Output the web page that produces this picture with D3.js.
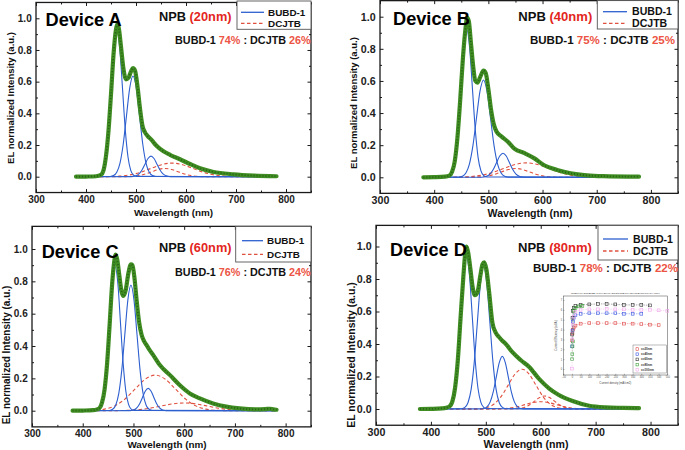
<!DOCTYPE html>
<html><head><meta charset="utf-8">
<script src="https://cdn.jsdelivr.net/npm/d3@7"></script>
<style>
body{margin:0;background:#fff}
svg{display:block}
text{font-family:"Liberation Sans",Arial,Helvetica,sans-serif;font-weight:bold;white-space:pre}
</style></head>
<body><svg id="c" width="685" height="450"></svg>
<script>
// ---------- tick labels ----------
const wavelengthTicks=[300,400,500,600,700,800];
const wavelengthMinor=[350,450,550,650,750,850];
const intensityTicks=[0,0.2,0.4,0.6,0.8,1.0];
const intensityMinor=[0.1,0.3,0.5,0.7,0.9];

// ---------- labels ----------
const deviceNames=["Device A","Device B","Device C","Device D"];
const npbThickness=["(20nm)","(40nm)","(60nm)","(80nm)"];
const bubdShare=["74%","75%","76%","78%"];
const dcjtbShare=["26%","25%","24%","22%"];
const legendNames=["BUBD-1","DCJTB"];

// ---------- Device A ----------
const totalA=[[380,0],[400,0.001],[420,0.003],[430,0.012],[435,0.04],[440,0.13],[445,0.29],[450,0.52],[455,0.77],[460,0.93],[463,0.965],[466,0.93],[470,0.82],[475,0.68],[480,0.615],[485,0.625],[490,0.665],[494,0.685],[498,0.67],[503,0.57],[508,0.43],[513,0.32],[518,0.28],[523,0.258],[531,0.232],[541,0.195],[555,0.16],[568,0.138],[588,0.11],[608,0.08],[628,0.053],[655,0.03],[695,0.015],[735,0.007],[781,0.003]];
const bubdA1=[[380,0],[423.5,0.002],[429,0.0102],[434.5,0.0404],[440,0.1245],[445.5,0.2987],[451,0.558],[456.5,0.8119],[462,0.92],[467.5,0.8119],[473,0.558],[478.5,0.2987],[484,0.1245],[489.5,0.0404],[495,0.0102],[500.5,0.002],[780,0]];
const bubdA2=[[380,0],[448.5,0.0014],[455,0.0071],[461.5,0.0279],[468,0.0861],[474.5,0.2065],[481,0.3857],[487.5,0.5613],[494,0.636],[500.5,0.5613],[507,0.3857],[513.5,0.2065],[520,0.0861],[526.5,0.0279],[533,0.0071],[539.5,0.0014],[780,0]];
const bubdA3=[[380,0],[488,0.0003],[494,0.0014],[500,0.0057],[506,0.0176],[512,0.0422],[518,0.0788],[524,0.1147],[530,0.13],[536,0.1147],[542,0.0788],[548,0.0422],[554,0.0176],[560,0.0057],[566,0.0014],[572,0.0003],[780,0]];
const dcjtbA1=[[380,0],[425,0.0002],[446,0.001],[467,0.0038],[488,0.0116],[509,0.0279],[530,0.0522],[551,0.0759],[572,0.086],[593,0.0759],[614,0.0522],[635,0.0279],[656,0.0116],[677,0.0038],[698,0.001],[719,0.0002],[780,0]];
const dcjtbA2=[[380,0],[467,0.0001],[480,0.0006],[493,0.0023],[506,0.007],[519,0.0169],[532,0.0315],[545,0.0459],[558,0.052],[571,0.0459],[584,0.0315],[597,0.0169],[610,0.007],[623,0.0023],[636,0.0006],[649,0.0001],[780,0]];

// ---------- Device B ----------
const totalB=[[380,0],[400,0.001],[420,0.004],[428,0.01],[433,0.035],[438,0.1],[443,0.25],[448,0.48],[453,0.74],[457,0.9],[461,0.995],[464,0.97],[468,0.83],[472,0.69],[476,0.6],[480,0.59],[485,0.625],[491,0.664],[495,0.65],[500,0.55],[505,0.42],[510,0.33],[515,0.285],[524,0.255],[536,0.222],[548,0.178],[567,0.15],[585,0.118],[603,0.075],[627,0.046],[652,0.025],[682,0.012],[712,0.007],[778,0.004]];
const bubdB1=[[380,0],[423.3,0.002],[428.5,0.0102],[433.8,0.0404],[439,0.1245],[444.3,0.2987],[449.5,0.558],[454.8,0.8119],[460,0.92],[465.3,0.8119],[470.5,0.558],[475.8,0.2987],[481,0.1245],[486.3,0.0404],[491.5,0.0102],[496.8,0.002],[780,0]];
const bubdB2=[[380,0],[445.5,0.0013],[452,0.0067],[458.5,0.0266],[465,0.082],[471.5,0.1968],[478,0.3675],[484.5,0.5348],[491,0.606],[497.5,0.5348],[504,0.3675],[510.5,0.1968],[517,0.082],[523.5,0.0266],[530,0.0067],[536.5,0.0013],[780,0]];
const bubdB3=[[380,0],[485,0.0003],[491,0.0017],[497,0.0066],[503,0.0203],[509,0.0487],[515,0.091],[521,0.1324],[527,0.15],[533,0.1324],[539,0.091],[545,0.0487],[551,0.0203],[557,0.0066],[563,0.0017],[569,0.0003],[780,0]];
const dcjtbB1=[[380,0],[423,0.0002],[444,0.001],[465,0.004],[486,0.0122],[507,0.0292],[528,0.0546],[549,0.0794],[570,0.09],[591,0.0794],[612,0.0546],[633,0.0292],[654,0.0122],[675,0.004],[696,0.001],[717,0.0002],[780,0]];
const dcjtbB2=[[380,0],[459,0.0001],[472,0.0006],[485,0.0024],[498,0.0074],[511,0.0179],[524,0.0334],[537,0.0485],[550,0.055],[563,0.0485],[576,0.0334],[589,0.0179],[602,0.0074],[615,0.0024],[628,0.0006],[641,0.0001],[780,0]];

// ---------- Device C ----------
const totalC=[[380,0],[400,0.001],[420,0.003],[428,0.008],[433,0.016],[438,0.05],[443,0.13],[448,0.29],[453,0.53],[458,0.785],[462,0.92],[465,0.965],[468,0.935],[472,0.84],[476,0.745],[480,0.71],[485,0.75],[490,0.85],[495,0.905],[498,0.9],[502,0.82],[506,0.69],[511,0.55],[516,0.47],[521,0.43],[526,0.405],[532,0.375],[539,0.344],[552,0.282],[572,0.22],[591,0.159],[611,0.107],[631,0.076],[657,0.045],[683,0.025],[709,0.014],[742,0.008],[760,0.01],[769,0.012],[776,0.008],[782,0.006]];
const bubdC1=[[380,0],[427.3,0.002],[432.5,0.0099],[437.8,0.0391],[443,0.1204],[448.3,0.289],[453.5,0.5398],[458.8,0.7854],[464,0.89],[469.3,0.7854],[474.5,0.5398],[479.8,0.289],[485,0.1204],[490.3,0.0391],[495.5,0.0099],[500.8,0.002],[780,0]];
const bubdC2=[[380,0],[453,0.0017],[459,0.0086],[465,0.0341],[471,0.1051],[477,0.2523],[483,0.4713],[489,0.6857],[495,0.777],[501,0.6857],[507,0.4713],[513,0.2523],[519,0.1051],[525,0.0341],[531,0.0086],[537,0.0017],[780,0]];
const bubdC3=[[380,0],[490.5,0.0003],[496,0.0015],[501.5,0.0061],[507,0.0187],[512.5,0.0448],[518,0.0837],[523.5,0.1218],[529,0.138],[534.5,0.1218],[540,0.0837],[545.5,0.0448],[551,0.0187],[556.5,0.0061],[562,0.0015],[567.5,0.0003],[780,0]];
const dcjtbC1=[[380,0],[403,0.0005],[423,0.0024],[443,0.0097],[463,0.0298],[483,0.0714],[503,0.1334],[523,0.1942],[543,0.22],[563,0.1942],[583,0.1334],[603,0.0714],[623,0.0298],[643,0.0097],[663,0.0024],[683,0.0005],[780,0]];
const dcjtbC2=[[380,0],[442.5,0.0001],[465,0.0005],[487.5,0.0021],[510,0.0065],[532.5,0.0156],[555,0.0291],[577.5,0.0424],[600,0.048],[622.5,0.0424],[645,0.0291],[667.5,0.0156],[690,0.0065],[712.5,0.0021],[735,0.0005],[757.5,0.0001],[780,0]];

// ---------- Device D ----------
const totalD=[[380,0],[400,0.001],[420,0.004],[428,0.008],[434,0.016],[439,0.045],[444,0.13],[449,0.3],[454,0.56],[459,0.81],[462,0.94],[465,1.0],[468,0.96],[472,0.86],[476,0.75],[480,0.7],[485,0.72],[490,0.82],[494,0.89],[497,0.902],[501,0.86],[506,0.72],[512,0.53],[518,0.47],[524,0.443],[530,0.42],[536,0.402],[548,0.351],[564,0.3],[579,0.259],[597,0.185],[615,0.127],[633,0.086],[658,0.049],[688,0.02],[718,0.01],[750,0.007],[779,0.005]];
const bubdD1=[[380,0],[428.6,0.0021],[433.8,0.0104],[439,0.041],[444.2,0.1262],[449.4,0.3029],[454.6,0.5659],[459.8,0.8234],[465,0.933],[470.2,0.8234],[475.4,0.5659],[480.6,0.3029],[485.8,0.1262],[491,0.041],[496.2,0.0104],[501.4,0.0021],[780,0]];
const bubdD2=[[380,0],[456.1,0.0019],[461.8,0.0097],[467.5,0.0385],[473.2,0.1188],[478.9,0.2851],[484.6,0.5325],[490.3,0.7748],[496,0.878],[501.7,0.7748],[507.4,0.5325],[513.1,0.2851],[518.8,0.1188],[524.5,0.0385],[530.2,0.0097],[535.9,0.0019],[780,0]];
const bubdD3=[[380,0],[491.5,0.0007],[497,0.0036],[502.5,0.0142],[508,0.0438],[513.5,0.1052],[519,0.1965],[524.5,0.2859],[530,0.324],[535.5,0.2859],[541,0.1965],[546.5,0.1052],[552,0.0438],[557.5,0.0142],[563,0.0036],[568.5,0.0007],[780,0]];
const dcjtbD1=[[380,0],[478.5,0.0005],[491,0.0027],[503.5,0.0108],[516,0.0331],[528.5,0.0796],[541,0.1486],[553.5,0.2162],[566,0.245],[578.5,0.2162],[591,0.1486],[603.5,0.0796],[616,0.0331],[628.5,0.0108],[641,0.0027],[653.5,0.0005],[780,0]];
const dcjtbD2=[[380,0],[544,0.0002],[553,0.0009],[562,0.0035],[571,0.0108],[580,0.026],[589,0.0485],[598,0.0706],[607,0.08],[616,0.0706],[625,0.0485],[634,0.026],[643,0.0108],[652,0.0035],[661,0.0009],[670,0.0002],[780,0]];
const dcjtbD3=[[380,0],[502,0.0001],[516,0.0005],[530,0.002],[544,0.0061],[558,0.0146],[572,0.0273],[586,0.0397],[600,0.045],[614,0.0397],[628,0.0273],[642,0.0146],[656,0.0061],[670,0.002],[684,0.0005],[698,0.0001],[780,0]];

// ---------- inset (Device D): current efficiency vs current density ----------
const insetTitle="[NPB(x)/MADN:BUBD-1(7%)(20)/MADN:DCJTB(1%)(20)/TPBi(30)/LiF(1)/Al(80)]";
const insetXTicks=[-50,0,50,100,150,200,250,300,350,400,450,500,550];
const insetYTicks=[0,1,2,3,4,5,6,7];
const insetSeriesNames=["x=20nm","x=40nm","x=60nm","x=80nm","x=100nm"];
const insetRed=[[1,2.9],[3,3.6],[6,4.0],[10,4.2],[20,4.4],[50,4.6],[100,4.65],[150,4.65],[200,4.65],[250,4.65],[300,4.6],[350,4.6],[400,4.55],[450,4.5],[500,4.45]];
const insetBlue=[[1,2.3],[3,3.9],[6,4.8],[10,5.2],[20,5.45],[50,5.6],[100,5.65],[150,5.65],[200,5.65],[250,5.65],[300,5.6],[350,5.6],[400,5.6]];
const insetBlack=[[1,3.5],[3,5.2],[6,5.9],[10,6.2],[20,6.4],[50,6.5],[100,6.55],[150,6.6],[200,6.6],[250,6.55],[300,6.5],[350,6.5],[400,6.5],[450,6.45]];
const insetGreen=[[1,1.0],[2,1.5],[3,2.3],[5,2.8],[10,5.9],[20,6.2],[40,6.35],[60,6.4]];
const insetPink=[[0.5,0.05],[2,3.0],[5,4.5],[10,5.3],[20,5.8],[50,6.0],[100,6.05],[150,6.05],[200,6.1],[250,6.05],[300,6.05],[350,6.0],[400,6.0],[450,6.0],[500,5.95],[550,5.9]];

// ---------- assemble ----------
const panels=[
 {total:totalA,bubd:[bubdA1,bubdA2,bubdA3],dcjtb:[dcjtbA1,dcjtbA2]},
 {total:totalB,bubd:[bubdB1,bubdB2,bubdB3],dcjtb:[dcjtbB1,dcjtbB2]},
 {total:totalC,bubd:[bubdC1,bubdC2,bubdC3],dcjtb:[dcjtbC1,dcjtbC2]},
 {total:totalD,bubd:[bubdD1,bubdD2,bubdD3],dcjtb:[dcjtbD1,dcjtbD2,dcjtbD3]}
];

// ---------- layout (pixels) ----------
const layouts=[
 {x0:36,x1:311,yZero:176.7,yOne:18.3,yMax:1.1,s:1.0,dev:[45.5,26],npb:[159,20.7],ratio:[310.7,44],
  leg:{x:237,y:1,w:74,h:28.3,lx0:241,lx1:264,l1:12.3,l2:23.3,tx:268,t1:15.6,t2:26.8},xt:[173.5,215.5],yt:[13.5,98],ytf:9.5},
 {x0:380,x1:678,yZero:177.3,yOne:16.7,yMax:1.1,s:1.07,dev:[393,25],npb:[518.3,20.7],ratio:[675,44],
  leg:{x:597.3,y:0.6,w:80.7,h:28.4,lx0:603,lx1:627,l1:11.7,l2:23.3,tx:632,t1:15.2,t2:26.8},xt:[530,216.8],yt:[356.5,103],ytf:9.5},
 {x0:32,x1:311,yZero:410.7,yOne:249,yMax:1.14,s:1.0,dev:[41.7,257.7],npb:[159,252.3],ratio:[310.7,275.7],
  leg:{x:235.7,y:226.4,w:75.3,h:35.6,lx0:242,lx1:263,l1:240.7,l2:254.3,tx:267,t1:244,t2:257.5},xt:[167,448.3],yt:[10,355],ytf:10},
 {x0:376,x1:678,yZero:409,yOne:246.5,yMax:1.13,s:1.07,dev:[390,255.7],npb:[518,252.3],ratio:[678,271.7],
  leg:{x:598,y:225.4,w:80,h:34.6,lx0:603,lx1:628,l1:239,l2:251,tx:633,t1:242.5,t2:254.5},xt:[526,448],yt:[354.5,355],ytf:10.5}
];

const C={blue:"#2d5fcf",red:"#e0503f",green:"#3f8d22",greenDot:"#1f4f12",axis:"#1a1a1a",tick:"#222",nm:"#e3261d",pct:"#ec5444"};

const svg=d3.select("#c");

function drawPanel(i){
  const P=panels[i],L=layouts[i],s=L.s;
  const g=svg.append("g");
  const x=d3.scaleLinear().domain([300,850]).range([L.x0,L.x1]);
  const y=d3.scaleLinear().domain([0,1]).range([L.yZero,L.yOne]);
  const yB=y(-0.1),yT=y(L.yMax);
  const tickFont=10*s;

  // axes with inward ticks on all four sides
  const addAxis=(axis,tr,vals,size,labels,pad)=>{
    const a=g.append("g").attr("transform",tr).call(axis.tickValues(vals).tickSizeInner(size).tickSizeOuter(0).tickPadding(labels?pad:0).tickFormat(labels?labels:()=>""));
    a.select(".domain").remove();
    a.selectAll("line").attr("stroke",C.axis).attr("stroke-width",1);
    a.selectAll("text").attr("fill",C.tick).style("font-size",tickFont+"px").style("font-family","'Liberation Sans',Arial,sans-serif").style("font-weight","bold");
    return a;
  };
  addAxis(d3.axisBottom(x),`translate(0,${yB})`,wavelengthTicks,-3.5,d3.format("d"),3.4);
  addAxis(d3.axisBottom(x),`translate(0,${yB})`,wavelengthMinor,-2,null);
  addAxis(d3.axisTop(x),`translate(0,${yT})`,wavelengthTicks,-3.5,null);
  addAxis(d3.axisTop(x),`translate(0,${yT})`,wavelengthMinor,-2,null);
  addAxis(d3.axisLeft(y),`translate(${L.x0},0)`,intensityTicks,-3.5,d3.format(".1f"),4.3);
  addAxis(d3.axisLeft(y),`translate(${L.x0},0)`,intensityMinor,-2,null);
  addAxis(d3.axisRight(y),`translate(${L.x1},0)`,intensityTicks,-3.5,null);
  addAxis(d3.axisRight(y),`translate(${L.x1},0)`,intensityMinor,-2,null);

  g.append("rect").attr("x",L.x0).attr("y",yT).attr("width",L.x1-L.x0).attr("height",yB-yT)
   .attr("fill","none").attr("stroke",C.axis).attr("stroke-width",1.3);

  const line=d3.line().x(d=>x(d[0])).y(d=>y(d[1])).curve(d3.curveMonotoneX);

  P.dcjtb.forEach(d=>g.append("path").attr("d",line(d)).attr("fill","none").attr("stroke",C.red).attr("stroke-width",1.1).attr("stroke-dasharray","3.5,2.5"));
  P.bubd.forEach(d=>g.append("path").attr("d",line(d)).attr("fill","none").attr("stroke",C.blue).attr("stroke-width",1.1));
  g.append("path").attr("d",line(P.total)).attr("fill","none").attr("stroke",C.green).attr("stroke-width",4.2).attr("stroke-linejoin","round").attr("stroke-linecap","round");
  g.append("path").attr("d",line(P.total)).attr("fill","none").attr("stroke",C.greenDot).attr("stroke-width",1.8).attr("stroke-dasharray","1,2").attr("opacity",0.7);

  // axis titles
  g.append("text").attr("x",L.xt[0]).attr("y",L.xt[1]).attr("text-anchor","middle").attr("fill","#111")
   .style("font-size",(9.9*s)+"px").text("Wavelength (nm)");
  g.append("text").attr("transform",`translate(${L.yt[0]},${L.yt[1]}) rotate(-90)`).attr("text-anchor","middle").attr("fill","#111")
   .style("font-size",L.ytf+"px").text("EL normalized Intensity (a.u.)");

  // device name
  g.append("text").attr("x",L.dev[0]).attr("y",L.dev[1]).attr("fill","#000").style("font-size","18.2px").text(deviceNames[i]);
  // NPB thickness
  const t1=g.append("text").attr("x",L.npb[0]).attr("y",L.npb[1]).style("font-size",(12.8*(s>1?1.02:1))+"px");
  t1.append("tspan").attr("fill","#111").text("NPB ");
  t1.append("tspan").attr("fill",C.nm).text(npbThickness[i]);
  // ratio
  const t2=g.append("text").attr("x",L.ratio[0]).attr("y",L.ratio[1]).attr("text-anchor","end").style("font-size",(10.8*s)+"px");
  t2.append("tspan").attr("fill","#111").text("BUBD-1 ");
  t2.append("tspan").attr("fill",C.pct).text(bubdShare[i]);
  t2.append("tspan").attr("fill","#111").text(" : DCJTB ");
  t2.append("tspan").attr("fill",C.pct).text(dcjtbShare[i]);

  // legend
  const lg=L.leg;
  g.append("rect").attr("x",lg.x).attr("y",lg.y).attr("width",lg.w).attr("height",lg.h).attr("fill","#fff").attr("stroke","#555").attr("stroke-width",0.9);
  g.append("line").attr("x1",lg.lx0).attr("x2",lg.lx1).attr("y1",lg.l1).attr("y2",lg.l1).attr("stroke",C.blue).attr("stroke-width",1.3);
  g.append("line").attr("x1",lg.lx0).attr("x2",lg.lx1).attr("y1",lg.l2).attr("y2",lg.l2).attr("stroke",C.red).attr("stroke-width",1.3).attr("stroke-dasharray","3.5,2.5");
  g.append("text").attr("x",lg.tx).attr("y",lg.t1).attr("fill","#111").style("font-size",(9.9*s)+"px").text(legendNames[0]);
  g.append("text").attr("x",lg.tx).attr("y",lg.t2).attr("fill","#111").style("font-size",(9.9*s)+"px").text(legendNames[1]);
}

[0,1,2,3].forEach(drawPanel);

// ---------- inset ----------
(function(){
  const g=svg.append("g");
  const ix0=563.3,ix1=667.3,iyT=296,iyB=375;
  g.append("rect").attr("x",553).attr("y",289).attr("width",118).attr("height",100).attr("fill","#fff");
  const x=d3.scaleLinear().domain([-50,550]).range([ix0,ix1]);
  const y=d3.scaleLinear().domain([-0.6,7.4]).range([iyB,iyT]);
  const f=2.6;
  const ax=g.append("g").attr("transform",`translate(0,${iyB})`).call(d3.axisBottom(x).tickValues(insetXTicks).tickSizeInner(-1.2).tickSizeOuter(0).tickPadding(1.2));
  const ay=g.append("g").attr("transform",`translate(${ix0},0)`).call(d3.axisLeft(y).tickValues(insetYTicks).tickSizeInner(-1.2).tickSizeOuter(0).tickPadding(1.2));
  [ax,ay].forEach(a=>{a.select(".domain").remove();a.selectAll("line").attr("stroke","#444").attr("stroke-width",0.4);
    a.selectAll("text").style("font-size",f+"px").style("font-weight","normal").attr("fill","#555");});
  g.append("rect").attr("x",ix0).attr("y",iyT).attr("width",ix1-ix0).attr("height",iyB-iyT).attr("fill","none").attr("stroke","#444").attr("stroke-width",0.5);
  g.append("text").attr("x",(ix0+ix1)/2).attr("y",iyT-2).attr("text-anchor","middle").style("font-size","2.5px").style("font-weight","normal").attr("fill","#333").text(insetTitle);
  g.append("text").attr("x",(ix0+ix1)/2).attr("y",iyB+8.5).attr("text-anchor","middle").style("font-size","2.8px").style("font-weight","normal").attr("fill","#444").text("Current density (mA/cm2)");
  g.append("text").attr("transform",`translate(${ix0-6},${(iyT+iyB)/2}) rotate(-90)`).attr("text-anchor","middle").style("font-size","2.8px").style("font-weight","normal").attr("fill","#444").text("Current Efficiency (cd/A)");
  const series=[insetRed,insetBlue,insetBlack,insetGreen,insetPink];
  const cols=["#e04848","#3a56e0","#333333","#38a038","#f0a6ea"];
  const ln=d3.line().x(d=>x(d[0])).y(d=>y(d[1]));
  series.forEach((sr,k)=>{
    g.append("path").attr("d",ln(sr)).attr("fill","none").attr("stroke",cols[k]).attr("stroke-width",0.4).attr("stroke-dasharray","1.5,1");
    g.selectAll(null).data(sr).enter().append("rect").attr("x",d=>x(d[0])-1.4).attr("y",d=>y(d[1])-1.4).attr("width",2.8).attr("height",2.8)
     .attr("fill","none").attr("stroke",cols[k]).attr("stroke-width",0.6);
  });
  // inset legend
  const lx=633,ly=345;
  g.append("rect").attr("x",lx).attr("y",ly).attr("width",33.5).attr("height",28).attr("fill","#fff").attr("stroke","#555").attr("stroke-width",0.4);
  insetSeriesNames.forEach((n,k)=>{
    const yy=ly+4+k*5.2;
    g.append("rect").attr("x",lx+3).attr("y",yy-1.3).attr("width",2.6).attr("height",2.6).attr("fill","none").attr("stroke",cols[k]).attr("stroke-width",0.6);
    g.append("text").attr("x",lx+8).attr("y",yy+1).style("font-size","3px").style("font-weight","bold").attr("fill","#333").text(n);
  });
})();
</script></body></html>
